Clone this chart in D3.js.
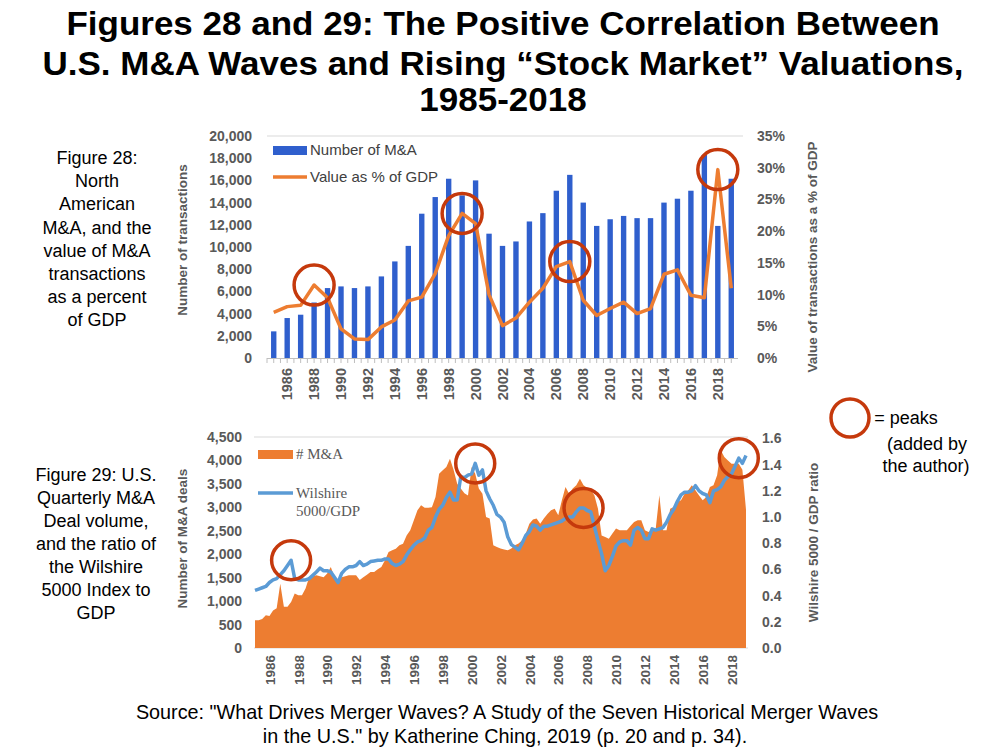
<!doctype html>
<html>
<head>
<meta charset="utf-8">
<title>M&amp;A Waves and Valuations</title>
<script src="https://d3js.org/d3.v7.min.js"></script>
<style>
  body { margin: 0; background: #fff; }
  svg { display: block; font-family: Arial, "Liberation Sans", sans-serif; }
  .tick text { fill: #595959; font-weight: bold; }
</style>
</head>
<body>
<div id="chart"></div>
<script>
// ---- Figure 28: yearly North American M&A ----
const years = [1985, 1986, 1987, 1988, 1989, 1990, 1991, 1992, 1993, 1994, 1995, 1996,
  1997, 1998, 1999, 2000, 2001, 2002, 2003, 2004, 2005, 2006, 2007, 2008, 2009, 2010,
  2011, 2012, 2013, 2014, 2015, 2016, 2017, 2018, 2019];
const mnaCount = [2400, 3600, 3900, 5000, 6300, 6450, 6300, 6450, 7350, 8700, 10100, 13000,
  14500, 16150, 14650, 16000, 11200, 10100, 10500, 12300, 13050, 15070, 16500, 14000, 11900, 12500,
  12800, 12600, 12600, 14000, 14350, 15070, 18300, 11900, 16150];
const gdpPct = [7.2, 8.1, 8.3, 11.5, 9.5, 4.6, 3.0, 2.9, 4.9, 6.0, 9.0, 9.6,
  13.3, 19.3, 22.8, 21.2, 10.0, 5.1, 6.3, 8.8, 11.0, 14.4, 15.2, 9.1, 6.7, 7.8,
  8.8, 7.0, 7.8, 13.2, 13.9, 9.9, 9.5, 29.7, 11.0];
const yearLabels = [1986, 1988, 1990, 1992, 1994, 1996, 1998, 2000, 2002, 2004, 2006,
  2008, 2010, 2012, 2014, 2016, 2018];
const countTicks = [0, 2000, 4000, 6000, 8000, 10000, 12000, 14000, 16000, 18000, 20000];
const pctTicks = [0, 5, 10, 15, 20, 25, 30, 35];
const topPeaks = [1988, 1999, 2007, 2018];

// ---- Figure 29: quarterly U.S. M&A, 1985Q1 .. 2019Q1 ----
const startYear = 1985;
const dealsQ = [
  590, 590, 620, 700,       // 1985
  680, 800, 850, 1370,      // 1986
  880, 880, 980, 1160,      // 1987
  1125, 1125, 1270, 1510,   // 1988
  1530, 1550, 1530, 1510,   // 1989
  1590, 1730, 1510, 1380,   // 1990
  1510, 1530, 1550, 1550,   // 1991
  1550, 1450, 1510, 1560,   // 1992
  1620, 1620, 1680, 1730,   // 1993
  1870, 2050, 2083, 2118,   // 1994
  2190, 2225, 2400, 2510,   // 1995
  2723, 2936, 3043, 2990,   // 1996
  2990, 3000, 3220, 3718,   // 1997
  3789, 3860, 4038, 3800,   // 1998
  3505, 3400, 3300, 3250,   // 1999
  3860, 3718, 3400, 3290,   // 2000
  2794, 2760, 2190, 2154,   // 2001
  2120, 2100, 2083, 2120,   // 2002
  2190, 2230, 2300, 2440,   // 2003
  2650, 2740, 2760, 2652,   // 2004
  2760, 2860, 2940, 2972,   // 2005
  2830, 3150, 3433, 3292,   // 2006
  3400, 3469, 3612, 3469,   // 2007
  3420, 3362, 3256, 2972,   // 2008
  2400, 2367, 2330, 2440,   // 2009
  2546, 2510, 2510, 2510,   // 2010
  2600, 2687, 2723, 2723,   // 2011
  2510, 2475, 2510, 2546,   // 2012
  3256, 2510, 2510, 2972,   // 2013
  3007, 3113, 3150, 3292,   // 2014
  3362, 3469, 3362, 3250,   // 2015
  3150, 3220, 3433, 3469,   // 2016
  3682, 4215, 4073, 4000,   // 2017
  3930, 3930, 3930, 3800,   // 2018
  2950                      // 2019
];
const wilshireQ = [
  0.44, 0.45, 0.46, 0.47,   // 1985
  0.50, 0.52, 0.53, 0.56,   // 1986
  0.59, 0.63, 0.67, 0.53,   // 1987
  0.52, 0.52, 0.52, 0.53,   // 1988
  0.555, 0.58, 0.61, 0.59,  // 1989
  0.59, 0.58, 0.54, 0.50,   // 1990
  0.57, 0.60, 0.62, 0.62,   // 1991
  0.63, 0.66, 0.63, 0.64,   // 1992
  0.66, 0.665, 0.67, 0.67,  // 1993
  0.68, 0.68, 0.645, 0.63,  // 1994
  0.64, 0.66, 0.71, 0.75,   // 1995
  0.785, 0.81, 0.82, 0.84,  // 1996
  0.90, 0.92, 1.00, 1.06,   // 1997
  1.09, 1.15, 1.19, 1.13,   // 1998
  1.13, 1.31, 1.30, 1.32,   // 1999
  1.33, 1.41, 1.32, 1.36,   // 2000
  1.20, 1.14, 1.09, 1.02,   // 2001
  1.00, 0.96, 0.85, 0.79,   // 2002
  0.77, 0.75, 0.80, 0.86,   // 2003
  0.89, 0.94, 0.93, 0.90,   // 2004
  0.93, 0.93, 0.94, 0.95,   // 2005
  0.96, 0.97, 0.99, 1.00,   // 2006
  1.00, 1.04, 1.07, 1.07,   // 2007
  1.05, 1.04, 0.93, 0.82,   // 2008
  0.72, 0.59, 0.63, 0.70,   // 2009
  0.78, 0.81, 0.82, 0.82,   // 2010
  0.785, 0.90, 0.92, 0.90,  // 2011
  0.835, 0.835, 0.91, 0.90, // 2012
  0.91, 0.92, 0.96, 1.02,   // 2013
  1.06, 1.12, 1.17, 1.19,   // 2014
  1.19, 1.20, 1.24, 1.20,   // 2015
  1.18, 1.17, 1.11, 1.20,   // 2016
  1.21, 1.23, 1.28, 1.31,   // 2017
  1.33, 1.39, 1.45, 1.41,   // 2018
  1.47                      // 2019
];
const dealTicks = [0, 500, 1000, 1500, 2000, 2500, 3000, 3500, 4000, 4500];
const ratioTicks = [0, 0.2, 0.4, 0.6, 0.8, 1.0, 1.2, 1.4, 1.6];
const bottomPeaks = [1987.5, 2000.25, 2007.75, 2018.5];

const blue = '#2f5fcd';
const orange = '#ed7d31';
const lightBlue = '#5b9bd5';
const ring = '#c5390c';
const grey = '#595959';

const svg = d3.select('#chart').append('svg')
  .attr('width', 1007)
  .attr('height', 751);

svg.append('rect').attr('width', 1007).attr('height', 751).attr('fill', '#fff');

// title (the source slide stretches it a little horizontally)
const title = ['Figures 28 and 29: The Positive Correlation Between',
  'U.S. M&A Waves and Rising \u201cStock Market\u201d Valuations,',
  '1985-2018'];
const titleY = [34.5, 75, 111];
svg.append('g').selectAll('text').data(title).join('text')
  .attr('transform', (d, i) => `translate(503,${titleY[i]}) scale(1.077,1)`)
  .attr('text-anchor', 'middle')
  .attr('font-size', '32.5px')
  .attr('font-weight', 'bold')
  .attr('fill', '#000')
  .text(d => d);

// side captions
function caption(lines, x, y0, step) {
  svg.append('g').selectAll('text').data(lines).join('text')
    .attr('x', x)
    .attr('y', (d, i) => y0 + i * step)
    .attr('text-anchor', 'middle')
    .attr('font-size', '18px')
    .attr('fill', '#000')
    .text(d => d);
}
caption(['Figure 28:', 'North', 'American', 'M&A, and the', 'value of M&A',
  'transactions', 'as a percent', 'of GDP'], 97, 164, 23.2);
caption(['Figure 29: U.S.', 'Quarterly M&A', 'Deal volume,', 'and the ratio of',
  'the Wilshire', '5000 Index to', 'GDP'], 96, 481, 23);

// ================= Figure 28 =================
const t = { left: 267, right: 738, top: 136, bottom: 358 };

const x1 = d3.scaleBand()
  .domain(years)
  .range([t.left, t.right])
  .paddingInner(0.6)
  .paddingOuter(0.3);
const y1 = d3.scaleLinear().domain([0, 20000]).range([t.bottom, t.top]);
const y1r = d3.scaleLinear().domain([0, 35]).range([t.bottom, t.top]);

// top border gridline
svg.append('line')
  .attr('x1', t.left).attr('x2', t.right + 5)
  .attr('y1', t.top).attr('y2', t.top)
  .attr('stroke', '#d9d9d9');

// bars
svg.append('g').selectAll('rect').data(years).join('rect')
  .attr('x', d => x1(d))
  .attr('width', x1.bandwidth())
  .attr('y', (d, i) => y1(mnaCount[i]))
  .attr('height', (d, i) => t.bottom - y1(mnaCount[i]))
  .attr('fill', blue);

// x axis line with small ticks
const step = x1.step();
svg.append('line')
  .attr('x1', t.left).attr('x2', t.right)
  .attr('y1', t.bottom + 0.5).attr('y2', t.bottom + 0.5)
  .attr('stroke', '#bfbfbf');
svg.append('g').selectAll('line').data(years.flatMap(d => [0, 0.5].map(o => ({ d, o })))).join('line')
  .attr('x1', p => x1(p.d) + x1.bandwidth() / 2 - step / 2 + p.o * step)
  .attr('x2', p => x1(p.d) + x1.bandwidth() / 2 - step / 2 + p.o * step)
  .attr('y1', t.bottom)
  .attr('y2', t.bottom + 5)
  .attr('stroke', '#bfbfbf');

svg.append('g')
  .attr('transform', `translate(0,${t.bottom})`)
  .call(d3.axisBottom(x1).tickValues(yearLabels).tickSize(0).tickPadding(0))
  .call(g => g.select('.domain').remove())
  .selectAll('text')
  .attr('font-size', '14.5px')
  .attr('text-anchor', 'end')
  .attr('transform', 'rotate(-90)')
  .attr('x', -10)
  .attr('y', 0)
  .attr('dy', '0.35em');

svg.append('g')
  .attr('transform', `translate(${t.left},0)`)
  .call(d3.axisLeft(y1).tickValues(countTicks).tickFormat(d3.format(',')).tickSize(0).tickPadding(15))
  .call(g => g.select('.domain').remove())
  .selectAll('text').attr('font-size', '14px');

svg.append('g')
  .attr('transform', `translate(${t.right},0)`)
  .call(d3.axisRight(y1r).tickValues(pctTicks).tickFormat(d => d + '%').tickSize(0).tickPadding(19))
  .call(g => g.select('.domain').remove())
  .selectAll('text').attr('font-size', '14px');

// line
const line1 = d3.line()
  .x((d, i) => x1(years[i]) + x1.bandwidth() / 2)
  .y(d => y1r(d));
svg.append('path')
  .datum(gdpPct)
  .attr('d', line1)
  .attr('fill', 'none')
  .attr('stroke', orange)
  .attr('stroke-width', 3.5)
  .attr('stroke-linejoin', 'round');

// axis titles
svg.append('text')
  .attr('transform', `translate(187,240) rotate(-90)`)
  .attr('text-anchor', 'middle')
  .attr('font-size', '13.5px')
  .attr('font-weight', 'bold')
  .attr('fill', grey)
  .text('Number of transactions');
svg.append('text')
  .attr('transform', `translate(817,${(t.top + t.bottom) / 2 + 10}) rotate(-90)`)
  .attr('text-anchor', 'middle')
  .attr('font-size', '13.5px')
  .attr('font-weight', 'bold')
  .attr('fill', grey)
  .text('Value of transactions as a % of GDP');

// legend
svg.append('rect').attr('x', 273).attr('y', 146).attr('width', 34).attr('height', 9).attr('fill', blue);
svg.append('text').attr('x', 310).attr('y', 155).attr('font-size', '15px').attr('fill', '#404040').text('Number of M&A');
svg.append('line').attr('x1', 273).attr('x2', 307).attr('y1', 177).attr('y2', 177)
  .attr('stroke', orange).attr('stroke-width', 3.5);
svg.append('text').attr('x', 310).attr('y', 182).attr('font-size', '15px').attr('fill', '#404040').text('Value as % of GDP');

// peak rings
svg.append('g').selectAll('circle').data(topPeaks).join('circle')
  .attr('cx', d => x1(d) + x1.bandwidth() / 2)
  .attr('cy', d => y1r(gdpPct[years.indexOf(d)]))
  .attr('r', 20)
  .attr('fill', 'none')
  .attr('stroke', ring)
  .attr('stroke-width', 3.5);

// ================= Figure 29 =================
const b = { left: 255, right: 746, top: 437, bottom: 648 };
const quarters = dealsQ.map((d, i) => startYear + i / 4);

const x2 = d3.scaleLinear().domain([1985, 2019]).range([b.left, b.right]);
const y2 = d3.scaleLinear().domain([0, 4500]).range([b.bottom, b.top]);
const y2r = d3.scaleLinear().domain([0, 1.6]).range([b.bottom, b.top + 1.5]);

svg.append('line')
  .attr('x1', b.left - 1).attr('x2', b.right + 2)
  .attr('y1', b.top).attr('y2', b.top)
  .attr('stroke', '#d9d9d9');
svg.append('line')
  .attr('x1', b.left - 1).attr('x2', b.right + 2)
  .attr('y1', b.bottom).attr('y2', b.bottom)
  .attr('stroke', '#d9d9d9');

const area2 = d3.area()
  .x((d, i) => x2(quarters[i]))
  .y0(y2(0))
  .y1(d => y2(d));
svg.append('path')
  .datum(dealsQ)
  .attr('d', area2)
  .attr('fill', orange);

const line2 = d3.line()
  .x((d, i) => x2(quarters[i]))
  .y(d => y2r(d));
svg.append('path')
  .datum(wilshireQ)
  .attr('d', line2)
  .attr('fill', 'none')
  .attr('stroke', lightBlue)
  .attr('stroke-width', 3.5)
  .attr('stroke-linejoin', 'round');

svg.append('g')
  .attr('transform', `translate(0,${b.bottom})`)
  .call(d3.axisBottom(x2).tickValues(yearLabels).tickFormat(d3.format('d')).tickSize(0).tickPadding(0))
  .call(g => g.select('.domain').remove())
  .selectAll('text')
  .attr('font-size', '13.5px')
  .attr('text-anchor', 'end')
  .attr('transform', 'rotate(-90)')
  .attr('x', -7)
  .attr('y', 0)
  .attr('dy', '0.35em');

svg.append('g')
  .attr('transform', `translate(${b.left},0)`)
  .call(d3.axisLeft(y2).tickValues(dealTicks).tickFormat(d3.format(',')).tickSize(0).tickPadding(13))
  .call(g => g.select('.domain').remove())
  .selectAll('text').attr('font-size', '14px');

svg.append('g')
  .attr('transform', `translate(${b.right},0)`)
  .call(d3.axisRight(y2r).tickValues(ratioTicks).tickFormat(d3.format('.1f')).tickSize(0).tickPadding(16))
  .call(g => g.select('.domain').remove())
  .selectAll('text').attr('font-size', '14px');

svg.append('text')
  .attr('transform', `translate(187,${(b.top + b.bottom) / 2 - 4}) rotate(-90)`)
  .attr('text-anchor', 'middle')
  .attr('font-size', '13.5px')
  .attr('font-weight', 'bold')
  .attr('fill', grey)
  .text('Number of M&A deals');
svg.append('text')
  .attr('transform', `translate(818,${(b.top + b.bottom) / 2}) rotate(-90)`)
  .attr('text-anchor', 'middle')
  .attr('font-size', '13.5px')
  .attr('font-weight', 'bold')
  .attr('fill', grey)
  .text('Wilshire 5000 / GDP ratio');

// legend (serif, as in the source)
const serif = '"Liberation Serif", "Times New Roman", serif';
svg.append('rect').attr('x', 258).attr('y', 450).attr('width', 35).attr('height', 9).attr('fill', orange);
svg.append('text').attr('x', 296).attr('y', 459).attr('font-family', serif).attr('font-size', '15px')
  .attr('fill', grey).text('# M&A');
svg.append('line').attr('x1', 258).attr('x2', 293).attr('y1', 493).attr('y2', 493)
  .attr('stroke', lightBlue).attr('stroke-width', 3.5);
svg.append('text').attr('x', 296).attr('y', 498).attr('font-family', serif).attr('font-size', '15px')
  .attr('fill', grey).text('Wilshire');
svg.append('text').attr('x', 296).attr('y', 516).attr('font-family', serif).attr('font-size', '15px')
  .attr('fill', grey).text('5000/GDP');

svg.append('g').selectAll('circle').data(bottomPeaks).join('circle')
  .attr('cx', d => x2(d))
  .attr('cy', d => y2r(wilshireQ[Math.round((d - startYear) * 4)]))
  .attr('r', 19.5)
  .attr('fill', 'none')
  .attr('stroke', ring)
  .attr('stroke-width', 3.5);

// ring legend
svg.append('circle').attr('cx', 850).attr('cy', 418).attr('r', 19)
  .attr('fill', 'none').attr('stroke', ring).attr('stroke-width', 3.5);
svg.append('text').attr('x', 906).attr('y', 424).attr('text-anchor', 'middle').attr('font-size', '18px').text('= peaks');
svg.append('text').attr('x', 927).attr('y', 450).attr('text-anchor', 'middle').attr('font-size', '18px').text('(added by');
svg.append('text').attr('x', 926).attr('y', 472).attr('text-anchor', 'middle').attr('font-size', '18px').text('the author)');

// source
svg.append('text').attr('x', 507).attr('y', 719).attr('text-anchor', 'middle').attr('font-size', '19.8px')
  .text('Source: "What Drives Merger Waves? A Study of the Seven Historical Merger Waves');
svg.append('text').attr('x', 505).attr('y', 743).attr('text-anchor', 'middle').attr('font-size', '19.8px')
  .text('in the U.S." by Katherine Ching, 2019 (p. 20 and p. 34).');
</script>
</body>
</html>
